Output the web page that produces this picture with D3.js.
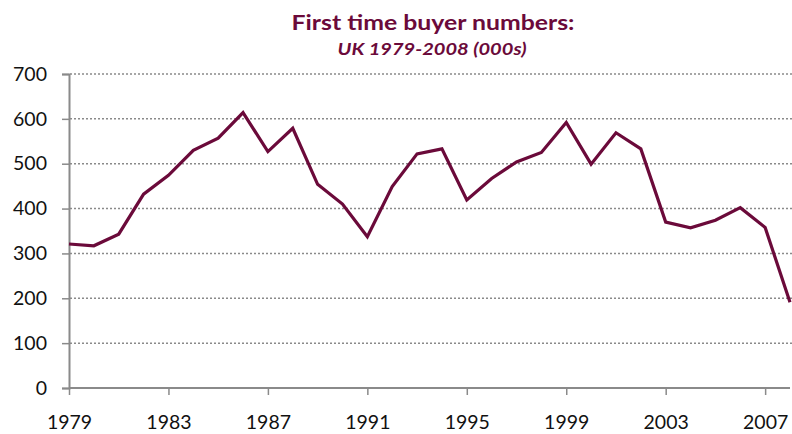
<!DOCTYPE html>
<html>
<head>
<meta charset="utf-8">
<script src="https://cdn.jsdelivr.net/npm/d3@7"></script>
<style>
  body { margin: 0; background: #fff; }
  text { font-family: Lato, "Open Sans", sans-serif; }
</style>
</head>
<body>
<svg width="792" height="434"></svg>
<script>
// first time buyers, UK, thousands
var years = d3.range(1979, 2009);
var buyers = [321, 317, 343, 432, 474, 530, 557, 614, 527, 579,
              454, 410, 337, 449, 522, 533, 419, 467, 504, 525,
              592, 499, 569, 533, 370, 357, 374, 402, 358, 191];
var yTicks = [0, 100, 200, 300, 400, 500, 600, 700];
var xTicks = [1979, 1983, 1987, 1991, 1995, 1999, 2003, 2007];
var titleText = 'First time buyer numbers:';
var subtitleText = 'UK 1979-2008 (000s)';

var maroon = '#6b0a3a';
var svg = d3.select('svg');

var x = d3.scaleLinear().domain([1979, 2008]).range([69, 790]);
var y = d3.scaleLinear().domain([0, 700]).range([388, 74]);

// dotted gridlines
svg.append('g')
    .selectAll('line')
    .data(yTicks.filter(function (d) { return d > 0; }))
    .enter()
    .append('line')
    .attr('x1', 70)
    .attr('x2', 792)
    .attr('y1', function (d) { return y(d); })
    .attr('y2', function (d) { return y(d); })
    .attr('stroke', '#8a8a8a')
    .attr('stroke-width', 1.5)
    .attr('stroke-dasharray', '2,2');

var yAxis = svg.append('g')
    .attr('transform', 'translate(69,0)')
    .call(d3.axisLeft(y).tickValues(yTicks).tickSize(7).tickPadding(15));

var xAxis = svg.append('g')
    .attr('transform', 'translate(0,388)')
    .call(d3.axisBottom(x).tickValues(xTicks).tickFormat(d3.format('d')).tickSize(7).tickPadding(20));

[yAxis, xAxis].forEach(function (g) {
    g.select('.domain').attr('stroke', '#8a8a8a').attr('stroke-width', 2);
    g.selectAll('.tick line').attr('stroke', '#8a8a8a').attr('stroke-width', 1.5);
    g.selectAll('.tick text')
        .attr('fill', '#111')
        .style('font-size', '19.5px')
        .style('font-family', 'Lato, sans-serif');
});
xAxis.select('.domain').attr('d', 'M69,0H790');

var line = d3.line()
    .x(function (d, i) { return x(years[i]); })
    .y(function (d) { return y(d); });

svg.append('path')
    .datum(buyers)
    .attr('d', line)
    .attr('fill', 'none')
    .attr('stroke', maroon)
    .attr('stroke-width', 3.2)
    .attr('stroke-linejoin', 'miter');

svg.append('text')
    .attr('x', 433)
    .attr('y', 30)
    .attr('text-anchor', 'middle')
    .attr('fill', maroon)
    .attr('font-weight', 'bold')
    .attr('font-size', 21)
    .attr('textLength', 283)
    .attr('lengthAdjust', 'spacingAndGlyphs')
    .text(titleText);

svg.append('text')
    .attr('x', 432)
    .attr('y', 55)
    .attr('text-anchor', 'middle')
    .attr('fill', maroon)
    .attr('font-weight', 'bold')
    .attr('font-style', 'italic')
    .attr('font-size', 17)
    .attr('textLength', 189)
    .attr('lengthAdjust', 'spacingAndGlyphs')
    .text(subtitleText);
</script>
</body>
</html>
